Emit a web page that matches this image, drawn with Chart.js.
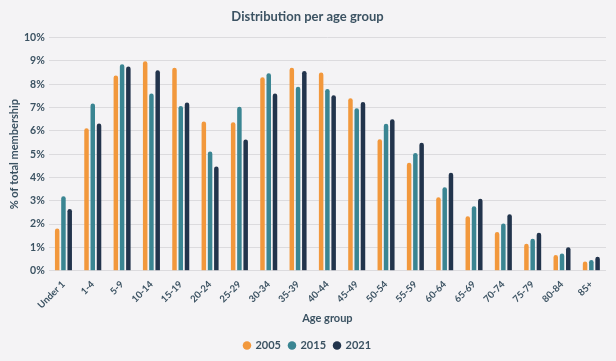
<!DOCTYPE html>
<html>
<head>
<meta charset="utf-8">
<script src="https://cdn.jsdelivr.net/npm/chart.js@4"></script>
<style>
    html, body { margin: 0; padding: 0; background: #f4f3f5; }
    #wrap { width: 616px; height: 361px; }
</style>
</head>
<body>
<div id="wrap"><canvas id="myChart" width="616" height="361"></canvas></div>
<script>
const ageGroups = ["Under 1", "1-4", "5-9", "10-14", "15-19", "20-24", "25-29", "30-34", "35-39", "40-44",
    "45-49", "50-54", "55-59", "60-64", "65-69", "70-74", "75-79", "80-84", "85+"];
const share2005 = [1.81, 6.11, 8.37, 8.98, 8.71, 6.4, 6.37, 8.3, 8.71, 8.5, 7.4, 5.64, 4.63, 3.15, 2.33, 1.66, 1.15, 0.67, 0.39];
const share2015 = [3.19, 7.17, 8.86, 7.6, 7.07, 5.11, 7.03, 8.47, 7.89, 7.79, 6.97, 6.3, 5.05, 3.58, 2.76, 2.02, 1.37, 0.74, 0.46];
const share2021 = [2.64, 6.31, 8.76, 8.6, 7.21, 4.47, 5.63, 7.6, 8.57, 7.53, 7.24, 6.5, 5.49, 4.2, 3.09, 2.42, 1.63, 1.0, 0.6];

const textColor = "#3b5262";
const fontFamily = "Lato, 'Open Sans', sans-serif";

function barSet(label, data, color) {
    return {
        label: label,
        data: data,
        backgroundColor: color,
        borderRadius: 3,
        borderSkipped: "start",
        categoryPercentage: 0.64,
        barPercentage: 0.72,
    };
}

const ctx = document.getElementById("myChart").getContext("2d");
const myChart = new Chart(ctx, {
    type: "bar",
    data: {
        labels: ageGroups,
        datasets: [
            barSet("2005", share2005, "#f2983c"),
            barSet("2015", share2015, "#3a8592"),
            barSet("2021", share2021, "#22344c"),
        ],
    },
    options: {
        responsive: false,
        animation: false,
        layout: { padding: { left: 9, right: 10, top: 6, bottom: 0 } },
        plugins: {
            title: {
                display: true,
                text: "Distribution per age group",
                color: textColor,
                font: { family: fontFamily, size: 13, weight: "bold" },
                padding: { top: 3, bottom: 13 },
            },
            legend: {
                position: "bottom",
                labels: {
                    usePointStyle: true,
                    pointStyle: "circle",
                    boxWidth: 6,
                    boxHeight: 6,
                    padding: 8,
                    color: textColor,
                    font: { family: fontFamily, size: 11, weight: "bold" },
                },
            },
            tooltip: { enabled: false },
        },
        scales: {
            x: {
                grid: { display: false },
                border: { display: false },
                // let the first rotated label hang under the y labels
                afterFit: function (scale) {
                    scale.paddingLeft = 0;
                },
                ticks: {
                    color: textColor,
                    font: { family: fontFamily, size: 9.5, weight: "bold" },
                    maxRotation: 45,
                    minRotation: 45,
                    padding: 0,
                },
                title: {
                    display: true,
                    text: "Age group",
                    color: textColor,
                    font: { family: fontFamily, size: 11, weight: "bold" },
                    padding: { top: 1, bottom: 7 },
                },
            },
            y: {
                min: 0,
                max: 10,
                grid: { color: "#dcdbde", lineWidth: 1, drawTicks: false },
                border: { display: false },
                ticks: {
                    stepSize: 1,
                    color: textColor,
                    padding: 4,
                    font: { family: fontFamily, size: 10.5, weight: "bold" },
                    callback: function (value) {
                        return value + "%";
                    },
                },
                title: {
                    display: true,
                    text: "% of total membership",
                    color: textColor,
                    font: { family: fontFamily, size: 11, weight: "bold", lineHeight: 1 },
                    padding: { top: 0, bottom: 0 },
                },
            },
        },
    },
});
</script>
</body>
</html>
